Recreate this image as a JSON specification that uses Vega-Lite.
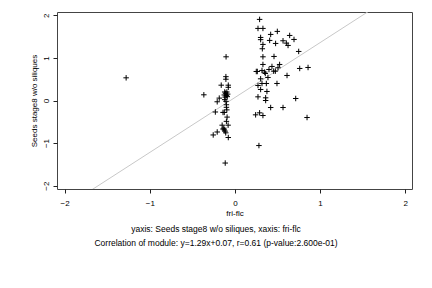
{
  "$schema": "https://vega.github.io/schema/vega-lite/v6.json",
  "autosize": "none",
  "width": 355,
  "height": 177,
  "padding": {"left": 57, "top": 12, "right": 20, "bottom": 99},
  "background": "white",
  "title": {
    "text": "yaxis: Seeds stage8 w/o siliques, xaxis: fri-flc",
    "subtitle": "Correlation of module: y=1.29x+0.07, r=0.61 (p-value:2.600e-01)",
    "orient": "bottom", "anchor": "middle", "frame": "bounds", "dx": -5, "offset": 8,
    "font": "Liberation Sans", "fontSize": 8.5, "fontWeight": "normal", "color": "black",
    "subtitleFont": "Liberation Sans", "subtitleFontSize": 8.5, "subtitleColor": "black", "subtitlePadding": 5
  },
  "config": {
    "font": "Liberation Sans",
    "view": {"stroke": "#444", "strokeWidth": 1},
    "axis": {"grid": false, "domain": false, "tickColor": "#222", "tickSize": 4, "labelFont": "Liberation Sans", "titleFont": "Liberation Sans", "labelFontSize": 8, "titleFontSize": 8, "labelColor": "black", "titleColor": "black", "titleFontWeight": "normal", "format": "d"}
  },
  "datasets": {
    "pts": [
      {"x": -1.278, "y": 0.533},
      {"x": -0.104, "y": 1.027}, {"x": -0.106, "y": 0.56}, {"x": -0.106, "y": 0.5}, {"x": -0.161, "y": 0.36}, {"x": -0.078, "y": 0.36}, {"x": -0.078, "y": 0.31}, {"x": -0.365, "y": 0.134},
      {"x": -0.12, "y": 0.2}, {"x": -0.095, "y": 0.2}, {"x": -0.11, "y": 0.17}, {"x": -0.085, "y": 0.15}, {"x": -0.125, "y": 0.13}, {"x": -0.1, "y": 0.12}, {"x": -0.09, "y": 0.09}, {"x": -0.115, "y": 0.08},
      {"x": -0.184, "y": 0.056}, {"x": -0.208, "y": -0.03}, {"x": -0.12, "y": 0.02}, {"x": -0.105, "y": -0.02}, {"x": -0.1, "y": -0.1}, {"x": -0.1, "y": -0.16}, {"x": -0.095, "y": -0.22},
      {"x": -0.23, "y": -0.27}, {"x": -0.14, "y": -0.28}, {"x": -0.125, "y": -0.28}, {"x": -0.092, "y": -0.39}, {"x": -0.1, "y": -0.49}, {"x": -0.15, "y": -0.58}, {"x": -0.08, "y": -0.58},
      {"x": -0.13, "y": -0.65}, {"x": -0.125, "y": -0.69}, {"x": -0.115, "y": -0.72}, {"x": -0.108, "y": -0.76}, {"x": -0.14, "y": -0.67},
      {"x": -0.208, "y": -0.74}, {"x": -0.255, "y": -0.81}, {"x": -0.078, "y": -0.87}, {"x": -0.114, "y": -1.47},
      {"x": 0.29, "y": 1.906}, {"x": 0.271, "y": 1.694}, {"x": 0.329, "y": 1.694}, {"x": 0.42, "y": 1.553}, {"x": 0.498, "y": 1.624}, {"x": 0.643, "y": 1.529}, {"x": 0.302, "y": 1.482}, {"x": 0.302, "y": 1.43}, {"x": 0.408, "y": 1.412}, {"x": 0.565, "y": 1.404}, {"x": 0.694, "y": 1.435}, {"x": 0.478, "y": 1.341}, {"x": 0.604, "y": 1.349}, {"x": 0.624, "y": 1.294}, {"x": 0.329, "y": 1.318}, {"x": 0.322, "y": 1.216}, {"x": 0.749, "y": 1.153}, {"x": 0.329, "y": 1.027}, {"x": 0.459, "y": 1.035}, {"x": 0.329, "y": 0.847}, {"x": 0.525, "y": 0.847}, {"x": 0.435, "y": 0.8}, {"x": 0.506, "y": 0.769}, {"x": 0.761, "y": 0.753}, {"x": 0.859, "y": 0.776}, {"x": 0.251, "y": 0.682}, {"x": 0.263, "y": 0.682}, {"x": 0.318, "y": 0.706}, {"x": 0.4, "y": 0.729}, {"x": 0.349, "y": 0.667}, {"x": 0.357, "y": 0.635}, {"x": 0.455, "y": 0.69}, {"x": 0.475, "y": 0.69}, {"x": 0.612, "y": 0.588}, {"x": 0.388, "y": 0.541}, {"x": 0.302, "y": 0.51}, {"x": 0.318, "y": 0.4}, {"x": 0.369, "y": 0.4}, {"x": 0.494, "y": 0.4}, {"x": 0.271, "y": 0.353}, {"x": 0.302, "y": 0.259}, {"x": 0.376, "y": 0.212}, {"x": 0.271, "y": 0.086}, {"x": 0.361, "y": 0.063}, {"x": 0.361, "y": 0.0}, {"x": 0.714, "y": 0.047}, {"x": 0.42, "y": -0.165}, {"x": 0.565, "y": -0.165}, {"x": 0.243, "y": -0.337}, {"x": 0.29, "y": -0.29}, {"x": 0.329, "y": -0.353}, {"x": 0.847, "y": -0.4}, {"x": 0.282, "y": -1.059}
    ],
    "fit": [
      {"x": -2.09, "y": -2.6261},
      {"x": 2.08, "y": 2.7532}
    ]
  },
  "layer": [
    {
      "data": {"name": "fit"},
      "mark": {"type": "line", "color": "#c8c8c8", "strokeWidth": 1, "clip": true},
      "encoding": {
        "x": {"field": "x", "type": "quantitative", "scale": {"domain": [-2.09, 2.08], "nice": false, "zero": false},
          "axis": {"values": [-2, -1, 0, 1, 2], "labelPadding": 6, "titlePadding": 2, "title": "fri-flc"}},
        "y": {"field": "y", "type": "quantitative", "scale": {"domain": [-2.08, 2.08], "nice": false, "zero": false},
          "axis": {"values": [-2, -1, 0, 1, 2], "labelAngle": -90, "labelAlign": "center", "labelBaseline": "bottom", "labelPadding": 3, "titlePadding": 4, "title": "Seeds stage8 w/o siliques"}}
      }
    },
    {
      "data": {"name": "pts"},
      "mark": {"type": "point", "shape": "M-1,0L1,0M0,-1L0,1", "filled": false, "stroke": "black", "strokeWidth": 1, "size": 30, "opacity": 1},
      "encoding": {
        "x": {"field": "x", "type": "quantitative"},
        "y": {"field": "y", "type": "quantitative"}
      }
    }
  ]
}
